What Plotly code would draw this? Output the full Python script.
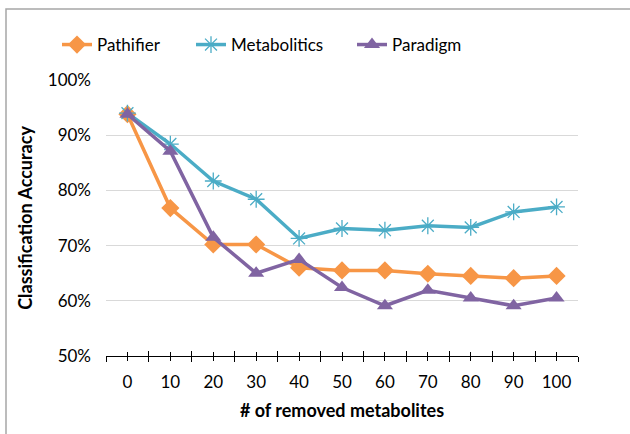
import plotly.graph_objects as go

removed = [0, 10, 20, 30, 40, 50, 60, 70, 80, 90, 100]
x_labels = ["0", "10", "20", "30", "40", "50", "60", "70", "80", "90", "100"]
pathifier = [0.938, 0.768, 0.702, 0.702, 0.660, 0.655, 0.655, 0.649, 0.645, 0.641, 0.645]
metabolitics = [0.940, 0.884, 0.817, 0.784, 0.713, 0.731, 0.728, 0.736, 0.733, 0.761, 0.770]
paradigm = [0.938, 0.871, 0.715, 0.650, 0.675, 0.624, 0.591, 0.619, 0.605, 0.591, 0.605]
boundaries = [-5, 5, 15, 25, 35, 45, 55, 65, 75, 85, 95, 105]
y_ticks = [0.5, 0.6, 0.7, 0.8, 0.9, 1.0]
y_labels = ["50%", "60%", "70%", "80%", "90%", "100%"]

FONT = "Lato, Carlito, Calibri, sans-serif"
W, H = 630, 434
ML, MR, MT, MB = 106, 52, 80, 78
pw = W - ML - MR
ph = H - MT - MB

fig = go.Figure()
fig.add_trace(go.Scatter(x=removed, y=pathifier, name="Pathifier", mode="lines+markers",
                         legend="legend",
                         line=dict(color="#F79646", width=3.5),
                         marker=dict(symbol="diamond", size=14, color="#F79646")))
fig.add_trace(go.Scatter(x=removed, y=metabolitics, name="Metabolitics", mode="lines+markers",
                         legend="legend2",
                         line=dict(color="#4BACC6", width=3.5),
                         marker=dict(symbol="asterisk-open", size=14,
                                     line=dict(color="#4BACC6", width=1.3))))
fig.add_trace(go.Scatter(x=removed, y=paradigm, name="Paradigm", mode="lines+markers",
                         legend="legend3",
                         line=dict(color="#8064A2", width=3.5),
                         marker=dict(symbol="triangle-up", size=14, color="#8064A2")))
# overlay axis to make ticks cross the axis line
fig.add_trace(go.Scatter(x=[removed[0]], y=[pathifier[0]], xaxis="x2", showlegend=False,
                         mode="markers", marker=dict(opacity=0), hoverinfo="skip"))


def leg(px):
    return dict(orientation="h", x=(px - ML) / pw, xanchor="left", xref="paper",
                y=1 + (MT - 45) / ph, yanchor="middle", yref="paper",
                font=dict(size=17, family=FONT), bgcolor="rgba(0,0,0,0)")


xcommon = dict(range=[-5, 105], showgrid=False, zeroline=False,
               showline=True, linecolor="#000000", linewidth=1,
               tickcolor="#000000", tickwidth=1)
fig.update_layout(
    width=W, height=H,
    margin=dict(l=ML, r=MR, t=MT, b=MB, autoexpand=False),
    paper_bgcolor="white", plot_bgcolor="white",
    font=dict(family=FONT, size=17, color="#000000"),
    showlegend=True,
    legend=leg(57), legend2=leg(191), legend3=leg(352),
    xaxis=dict(**xcommon, tickmode="array", tickvals=removed, ticktext=x_labels,
               ticks="outside", ticklen=4,
               minor=dict(tickmode="array", tickvals=boundaries, ticks="outside",
                          ticklen=5, tickcolor="#000000", tickwidth=1),
               tickfont=dict(size=17), ticklabelstandoff=7,
               title=dict(text="<b># of removed metabolites</b>", font=dict(size=18), standoff=12)),
    xaxis2=dict(**xcommon, overlaying="x", anchor="y", side="bottom",
                tickmode="array", tickvals=removed, ticktext=[""] * len(removed),
                ticks="inside", ticklen=4,
                minor=dict(tickmode="array", tickvals=boundaries, ticks="inside",
                           ticklen=5, tickcolor="#000000", tickwidth=1),
                showticklabels=False),
    yaxis=dict(range=[0.5, 1.0], tickmode="array", tickvals=y_ticks, ticktext=y_labels,
               showgrid=True, gridcolor="#D9D9D9", gridwidth=1, zeroline=False,
               showline=False, ticks="", tickfont=dict(size=17), ticklabelstandoff=14,
               title=dict(text="<b>Classification Accuracy</b>", font=dict(size=18), standoff=10)),
)

fig.add_shape(type="rect", xref="paper", yref="paper",
              x0=(6 - ML) / pw, x1=(W + 20 - ML) / pw,
              y0=-(H + 20 - MT - ph) / ph, y1=1 + (MT - 9) / ph,
              line=dict(color="#A6A6A6", width=1.5), fillcolor="rgba(0,0,0,0)", layer="below")

fig.write_html("out.html")
